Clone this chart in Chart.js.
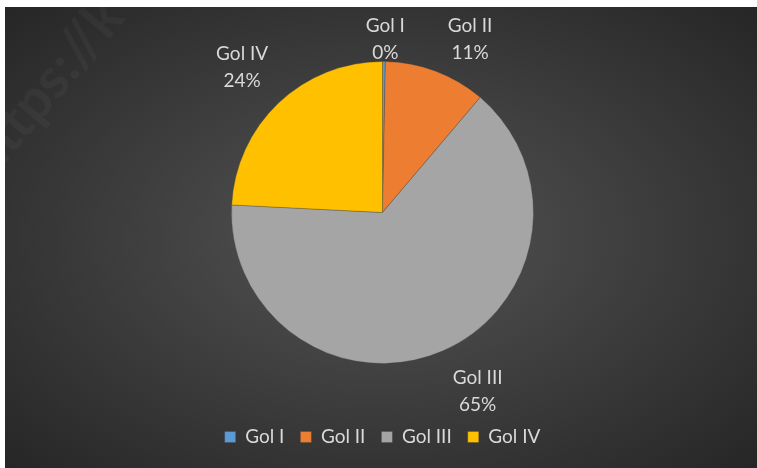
<!DOCTYPE html>
<html>
<head>
<meta charset="utf-8">
<script src="https://cdn.jsdelivr.net/npm/chart.js@4.4.1/dist/chart.umd.min.js"></script>
<style>
  html, body { margin: 0; padding: 0; background: #ffffff; }
  #wrap {
    position: absolute; left: 5px; top: 7px; width: 752px; height: 461px;
    background: radial-gradient(ellipse farthest-corner at 50% 50%, #545454 0%, #262626 100%);
  }
  canvas { display: block; }
</style>
</head>
<body>
<div id="wrap"><canvas id="chart" width="752" height="461"></canvas></div>
<script>
// slice data (percent of total)
const categories = ['Gol I', 'Gol II', 'Gol III', 'Gol IV'];
const values = [0.3, 10.9, 64.6, 24.2];
const colors = ['#5B9BD5', '#ED7D31', '#A5A5A5', '#FFC000'];

const FONT = 'Lato, "Open Sans", sans-serif';
const TEXT_COLOR = '#d9d9d9';

/**
 * Outside data labels (name + percent), placed off each slice's mid angle
 */
const outsideLabels = {
  id: 'outsideLabels',
  afterDatasetsDraw(chart, args, opts) {
    const ctx = chart.ctx;
    const meta = chart.getDatasetMeta(0);
    const data = chart.data.datasets[0].data;
    const total = data.reduce((a, b) => a + b, 0);
    ctx.save();
    ctx.font = opts.size + 'px ' + FONT;
    ctx.fillStyle = TEXT_COLOR;
    ctx.textAlign = 'center';
    ctx.textBaseline = 'middle';
    meta.data.forEach((arc, i) => {
      const p = arc.getProps(['x', 'y', 'startAngle', 'endAngle', 'outerRadius'], true);
      const mid = (p.startAngle + p.endAngle) / 2;
      const dist = p.outerRadius + opts.offset;
      const nudge = opts.nudge[i] || [0, 0];
      const cx = p.x + Math.cos(mid) * dist + nudge[0];
      const cy = p.y + Math.sin(mid) * dist + nudge[1];
      const pct = Math.round(data[i] / total * 100) + '%';
      ctx.fillText(chart.data.labels[i], cx, cy - opts.lineGap / 2);
      ctx.fillText(pct, cx, cy + opts.lineGap / 2);
    });
    ctx.restore();
  }
};

// faint watermark in the top-left corner
const watermark = {
  id: 'watermark',
  beforeDraw(chart) {
    const ctx = chart.ctx;
    ctx.save();
    ctx.translate(108, 0);
    ctx.rotate(-50 * Math.PI / 180);
    ctx.font = 'bold 56px ' + FONT;
    ctx.fillStyle = 'rgba(255,255,255,0.035)';
    ctx.textAlign = 'right';
    ctx.textBaseline = 'middle';
    ctx.fillText('https://k', 0, 0);
    ctx.restore();
  }
};

new Chart(document.getElementById('chart'), {
  type: 'pie',
  data: {
    labels: categories,
    datasets: [{
      data: values,
      backgroundColor: colors,
      borderColor: 'rgba(70,70,70,0.35)',
      borderWidth: 1,
      radius: 151
    }]
  },
  options: {
    responsive: false,
    animation: false,
    layout: { padding: { top: 6.5, bottom: 11.5, left: 3, right: 0 } },
    plugins: {
      legend: {
        display: true,
        position: 'bottom',
        labels: {
          color: TEXT_COLOR,
          font: { family: FONT, size: 19 },
          boxWidth: 11,
          boxHeight: 11,
          padding: 16
        }
      },
      tooltip: { enabled: false },
      outsideLabels: {
        size: 19,
        offset: 44,
        lineGap: 27,
        nudge: [[1, 21.5], [18.6, 8.9], [17.7, 0], [-6, -4]]
      }
    }
  },
  plugins: [watermark, outsideLabels]
});
</script>
</body>
</html>
